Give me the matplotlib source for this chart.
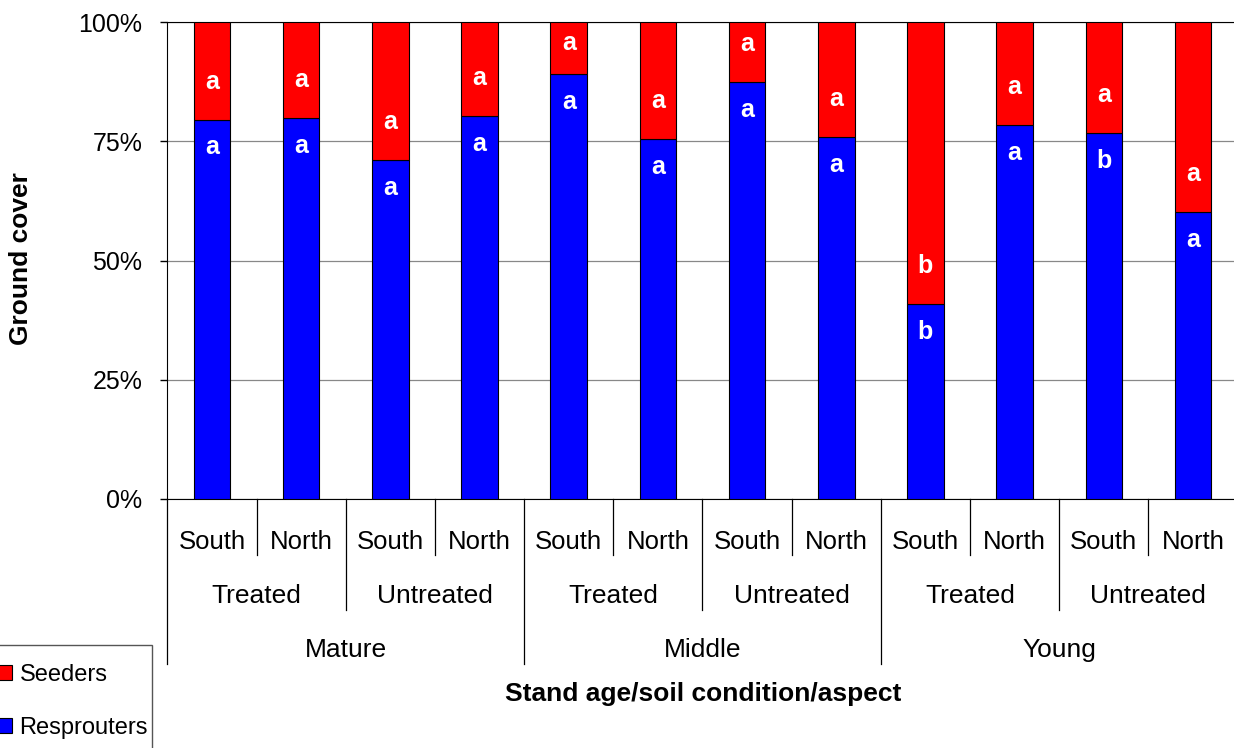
import matplotlib.pyplot as plt
from matplotlib import transforms
from matplotlib.patches import Rectangle
import numpy as np

plt.rcParams['font.family'] = ['Liberation Sans', 'DejaVu Sans']

# data
aspects = ["South", "North"] * 6
conditions = ["Treated", "Untreated"] * 3
ages = ["Mature", "Middle", "Young"]
resprouters = [79.5, 79.9, 71.1, 80.3, 89.1, 75.5, 87.4, 75.9, 40.9, 78.4, 76.7, 60.2]
seeders = [100 - v for v in resprouters]
resp_letters = ["a", "a", "a", "a", "a", "a", "a", "a", "b", "a", "b", "a"]
seed_letters = ["a", "a", "a", "a", "a", "a", "a", "a", "b", "a", "a", "a"]

W, H = 1234, 748
fig = plt.figure(figsize=(W / 100, H / 100), dpi=100)
ax = fig.add_axes([167.4 / W, 1 - 499 / H, (1237.6 - 167.4) / W, (499 - 22) / H])

x = np.arange(len(resprouters))
ax.bar(x, resprouters, width=0.41, color="#0000ff", edgecolor="black", linewidth=0.8,
       label="Resprouters", zorder=3)
ax.bar(x, seeders, width=0.41, bottom=resprouters, color="#ff0000", edgecolor="black",
       linewidth=0.8, label="Seeders", zorder=3)

for xi, r, la, ls in zip(x, resprouters, resp_letters, seed_letters):
    ax.text(xi, r - 5.8, la, color="white", fontsize=18, fontweight="bold",
            ha="center", va="center", zorder=4)
    ax.text(xi, min(r + 8.0, 95.5), ls, color="white", fontsize=18, fontweight="bold",
            ha="center", va="center", zorder=4)

ax.set_xlim(-0.5, len(x) - 0.5)
ax.set_ylim(0, 100)
ax.set_yticks([0, 25, 50, 75, 100])
ax.set_yticklabels(["0%", "25%", "50%", "75%", "100%"], fontsize=18)
ax.tick_params(axis="y", length=5, width=1, pad=13)
ax.set_xticks([])
ax.yaxis.grid(True, color="#888888", linewidth=0.9, zorder=0)
ax.spines["right"].set_visible(False)
ax.spines["top"].set_visible(True)
ax.spines["top"].set_color("black")

fig.text(21 / W, 1 - 258.5 / H, "Ground cover", fontsize=19, fontweight="bold",
         rotation=90, ha="center", va="center")

# hierarchical category axis
trans = transforms.blended_transform_factory(ax.transData, fig.transFigure)
y0 = 1 - 499 / H
for i in range(len(x) + 1):
    b = i - 0.5
    if i % 4 == 0:
        ylow = 1 - 664 / H
    elif i % 2 == 0:
        ylow = 1 - 610 / H
    else:
        ylow = 1 - 555 / H
    ax.plot([b, b], [y0, ylow], color="black", linewidth=0.9, transform=trans, clip_on=False)

for xi, a in zip(x, aspects):
    ax.text(xi, 1 - 542 / H, a, fontsize=18.5, ha="center", va="center", transform=trans)
for j, c in enumerate(conditions):
    ax.text(2 * j + 0.5, 1 - 596 / H, c, fontsize=19, ha="center", va="center", transform=trans)
for k, g in enumerate(ages):
    ax.text(4 * k + 1.5, 1 - 650 / H, g, fontsize=19, ha="center", va="center", transform=trans)

fig.text(703 / W, 1 - 694 / H, "Stand age/soil condition/aspect", fontsize=19,
         fontweight="bold", ha="center", va="center")

handles, labels = ax.get_legend_handles_labels()
leg = fig.legend(handles[::-1], labels[::-1], loc="upper right",
                 bbox_to_anchor=(148 / W, 1 - 664 / H), fontsize=17, frameon=False,
                 handlelength=0.6, handleheight=0.6, handletextpad=0.3,
                 labelspacing=1.3, borderaxespad=0, borderpad=0)
for h in leg.legend_handles:
    h.set_edgecolor("black")
    h.set_linewidth(0.8)
fig.patches.append(Rectangle((-0.01, -0.01), 152 / W + 0.01, 1 - 645 / H + 0.01,
                             transform=fig.transFigure, fill=False,
                             edgecolor="#555555", linewidth=1))

fig.savefig("out.png", dpi=100)
